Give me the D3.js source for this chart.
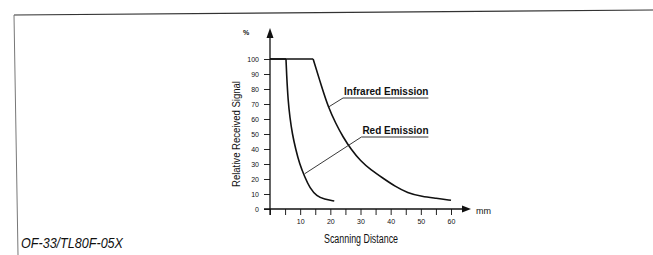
<!DOCTYPE html>
<html>
<head>
<meta charset="utf-8">
<script src="https://cdn.jsdelivr.net/npm/d3@7"></script>
<style>
  body { margin: 0; background: #fff; }
  text { font-family: "Liberation Sans", Arial, sans-serif; fill: #111; }
</style>
</head>
<body>
<div id="chart"></div>
<script>
// values (mm, %)
var redDist   = [0, 5.3, 5.5, 6.0, 6.6, 7.4, 8.5, 9.8, 11.6, 13.2, 15.5, 18.0, 21.3];
var redSignal = [100, 100, 90, 72, 61, 50, 40, 30, 21, 14, 8.5, 6.6, 5.3];

var irDist   = [0, 14.3, 17.2, 19.3, 21.8, 24.2, 26.8, 30, 33.5, 37.5, 41.5, 45.5, 50.5, 55, 60];
var irSignal = [100, 100, 81, 68, 57, 48, 40, 32, 26, 20.5, 15, 10.8, 8.2, 7.2, 5.8];

var xTicks      = [0, 5, 10, 15, 20, 25, 30, 35, 40, 45, 50, 55, 60];
var xTickLabels = [10, 20, 30, 40, 50, 60];
var yTicks      = [0, 10, 20, 30, 40, 50, 60, 70, 80, 90, 100];

// label callouts: [curve point, underline start, underline end] in data units
var irLabel  = {text: "Infrared Emission", from: [19.4, 68], at: [24.2, 74], to: [52.5, 74]};
var redLabel = {text: "Red Emission", from: [11.5, 23.5], at: [30.3, 48], to: [52.5, 48]};

var W = 653, H = 255;

var svg = d3.select("#chart").append("svg")
            .attr("width", W)
            .attr("height", H);

// scanned page frame
svg.append("line")
   .attr("x1", 14).attr("y1", 15).attr("x2", 653).attr("y2", 10)
   .attr("stroke", "#333").attr("stroke-width", 1.2);
svg.append("line")
   .attr("x1", 14).attr("y1", 15).attr("x2", 18).attr("y2", 255)
   .attr("stroke", "#777").attr("stroke-width", 1);

var x = d3.scaleLinear().domain([0, 60]).range([270, 451]);
var y = d3.scaleLinear().domain([0, 100]).range([209, 59]);

// axes
var xAxis = d3.axisBottom(x)
              .tickValues(xTicks)
              .tickSize(6)
              .tickFormat(function(d) { return xTickLabels.indexOf(d) >= 0 ? d : ""; });
var xg = svg.append("g")
            .attr("transform", "translate(0," + y(0) + ")")
            .call(xAxis);
xg.select(".domain").remove();
xg.selectAll(".tick line").attr("stroke", "#222").attr("stroke-width", 1);
xg.selectAll(".tick text").attr("font-size", "7px").attr("dy", "0.9em")
  .attr("font-family", "Liberation Sans, Arial, sans-serif").attr("fill", "#333");

var yAxis = d3.axisLeft(y)
              .tickValues(yTicks)
              .tickSize(6)
              .tickPadding(5);
var yg = svg.append("g")
            .attr("transform", "translate(" + x(0) + ",0)")
            .call(yAxis);
yg.select(".domain").remove();
yg.selectAll(".tick line").attr("stroke", "#222").attr("stroke-width", 1);
yg.selectAll(".tick text").attr("font-size", "7px")
  .attr("font-family", "Liberation Sans, Arial, sans-serif").attr("fill", "#333");

// axis lines with arrows
svg.append("line")
   .attr("x1", x(0) - 6).attr("y1", y(0)).attr("x2", 464).attr("y2", y(0))
   .attr("stroke", "#111").attr("stroke-width", 1.3);
svg.append("path")
   .attr("d", "M462," + (y(0) - 3.5) + "L471," + y(0) + "L462," + (y(0) + 3.5) + "Z")
   .attr("fill", "#111");
svg.append("line")
   .attr("x1", x(0)).attr("y1", y(0) + 6).attr("x2", x(0)).attr("y2", 36)
   .attr("stroke", "#111").attr("stroke-width", 1.3);
svg.append("path")
   .attr("d", "M" + (x(0) - 3.5) + ",38L" + x(0) + ",28L" + (x(0) + 3.5) + ",38Z")
   .attr("fill", "#111");

svg.append("text").attr("x", 246).attr("y", 35)
   .attr("font-size", "7px").attr("font-weight", "bold").attr("text-anchor", "middle")
   .text("%");
svg.append("text").attr("x", 476).attr("y", 214)
   .attr("font-size", "9px").attr("fill", "#333")
   .text("mm");

svg.append("text")
   .attr("x", 361).attr("y", 243)
   .attr("text-anchor", "middle")
   .attr("font-size", "12px")
   .attr("textLength", 74).attr("lengthAdjust", "spacingAndGlyphs")
   .text("Scanning Distance");

svg.append("text")
   .attr("transform", "translate(240,134) rotate(-90)")
   .attr("text-anchor", "middle")
   .attr("font-size", "11.5px")
   .attr("textLength", 106).attr("lengthAdjust", "spacingAndGlyphs")
   .text("Relative Received Signal");

// curves
function drawCurve(dist, signal) {
    var pts = dist.map(function(d, i) { return [d, signal[i]]; });
    var flat = d3.line()
                 .x(function(d) { return x(d[0]); })
                 .y(function(d) { return y(d[1]); });
    var drop = d3.line()
                 .x(function(d) { return x(d[0]); })
                 .y(function(d) { return y(d[1]); })
                 .curve(d3.curveBasis);
    svg.append("path").attr("d", flat(pts.slice(0, 2)))
       .attr("fill", "none").attr("stroke", "#111").attr("stroke-width", 1.6);
    svg.append("path").attr("d", drop(pts.slice(1)))
       .attr("fill", "none").attr("stroke", "#111").attr("stroke-width", 1.6);
}
drawCurve(redDist, redSignal);
drawCurve(irDist, irSignal);

// callouts
function drawLabel(lab) {
    svg.append("path")
       .attr("d", "M" + x(lab.from[0]) + "," + y(lab.from[1]) +
                  "L" + x(lab.at[0]) + "," + y(lab.at[1]) +
                  "L" + x(lab.to[0]) + "," + y(lab.to[1]))
       .attr("fill", "none").attr("stroke", "#222").attr("stroke-width", 0.9);
    svg.append("text")
       .attr("x", x(lab.at[0]) + 1).attr("y", y(lab.at[1]) - 3)
       .attr("font-size", "10px").attr("font-weight", "bold")
       .text(lab.text);
}
drawLabel(irLabel);
drawLabel(redLabel);

svg.append("text")
   .attr("x", 21).attr("y", 248)
   .attr("font-size", "14px").attr("font-style", "italic")
   .attr("textLength", 102).attr("lengthAdjust", "spacingAndGlyphs")
   .text("OF-33/TL80F-05X");
</script>
</body>
</html>
